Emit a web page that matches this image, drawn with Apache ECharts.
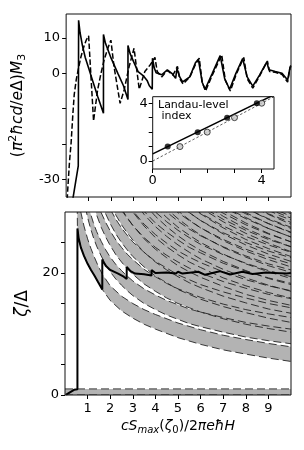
<!DOCTYPE html>
<html>
<head>
<meta charset="utf-8">
<script src="https://cdn.jsdelivr.net/npm/echarts@6/dist/echarts.min.js"></script>
<style>
html,body{margin:0;padding:0;background:#ffffff;}
#chart{width:304px;height:450px;}
</style>
</head>
<body>
<div id="chart"></div>
<script>
// ---------------- top panel : (pi^2 hbar c d / e Delta) M3 versus x ----------------
const magnetSolid = [
  [0.30,-35.5],[0.54,-26.2],[0.555,15.0],[0.62,11.5],[0.72,8.0],[0.85,4.5],[1.0,1.5],[1.15,-1.5],[1.4,-6.5],[1.66,-11.3],
  [1.66,11.0],[1.75,8.5],[2.0,4.3],[2.3,0.0],[2.55,-3.5],[2.75,-7.4],
  [2.75,7.9],[2.85,5.5],[3.0,3.3],[3.2,0.5],[3.45,-0.8],[3.6,-2.0],[3.7,-3.5],[3.83,-4.5],
  [3.84,4.3],[3.92,1.5],[4.0,0.2],[4.25,-0.4],[4.5,1.0],[4.7,0.0],[4.87,-1.4],[4.93,1.4],[5.05,-1.0],[5.18,-2.4],
  [5.5,-1.0],[5.75,3.0],[5.88,4.0],[6.05,-2.5],[6.18,-4.5],[6.5,0.0],[6.85,5.0],[7.05,-1.5],[7.27,-4.5],[7.55,0.0],
  [7.85,4.2],[8.05,-1.0],[8.3,-3.6],[8.6,-0.5],[8.92,3.2],[9.02,1.0],[9.3,0.5],[9.6,0.0],[9.85,-1.9],[9.95,1.5],[10.0,2.0]
];
const magnetDashed = [
  [0.03,-38],[0.07,-33],[0.15,-25],[0.22,-19.8],[0.3,-11.5],[0.36,-6],[0.45,-1.8],[0.55,1.5],[0.66,4.7],[0.8,7.8],[0.9,9.5],[1.0,10.6],
  [1.22,-13.5],[1.3,-9.5],[1.4,-4.7],[1.55,0.0],[1.69,3.8],[1.85,7.0],[1.99,9.4],
  [2.13,1.9],[2.4,-8.5],[2.58,-4.7],[2.8,1.9],[3.02,7.1],
  [3.25,-4.5],[3.5,0.5],[3.75,2.5],[3.95,4.5],[4.05,0.5],[4.25,-1.0],[4.5,0.8],[4.75,-0.5],[4.95,2.0],[5.05,-1.5],[5.2,-3.0],
  [5.5,-1.0],[5.75,2.5],[5.92,4.3],[6.05,-2.5],[6.2,-5.0],[6.5,-0.5],[6.92,5.2],[7.08,-2.0],[7.3,-5.0],[7.55,-0.5],[7.9,4.5],
  [8.05,-1.5],[8.3,-4.2],[8.6,-0.8],[8.95,3.5],[9.05,0.5],[9.3,0.3],[9.6,-0.3],[9.85,-2.5],[9.97,2.0],[10,2.2]
];

// ---------------- inset : Landau-level index ----------------
const insetFilledX = [0.55, 1.65, 2.73, 3.82];
const insetOpenX = [1, 2, 3, 4];
const insetLevelIndex = [1, 2, 3, 4];
const insetFitSolid = [[0, 0.5], [4.45, 4.58]];
const insetFitDotted = [[0, 0], [4.45, 4.45]];

// ---------------- bottom panel : zeta / Delta versus x ----------------
const chemPotential = [
  [0.05,0.05],[0.2,0.4],[0.4,0.85],[0.55,0.95],
  [0.55,27.3],[0.6,25.8],[0.7,24.2],[0.84,22.8],[1.0,21.5],[1.15,20.5],[1.3,19.6],[1.45,18.6],[1.65,17.3],
  [1.65,22.2],[1.8,21.2],[2.0,20.5],[2.35,19.9],[2.6,19.4],[2.73,19.0],
  [2.73,21.0],[2.9,20.3],[3.1,19.9],[3.5,19.8],[3.83,19.6],
  [3.83,20.5],[4.0,20.0],[4.5,20.1],[4.9,19.9],[5.0,20.2],[5.2,19.9],[5.9,20.2],[6.2,19.7],[6.85,20.3],
  [7.3,19.75],[7.85,20.2],[8.3,19.85],[8.9,20.1],[9.3,20.0],[9.8,19.9],[10,20.0]
];
const zeroBandLower = [[0,0],[10,0]];
const zeroBandUpper = [[0,1],[10,1]];
const band01Lower = [[0.54,31.0],[0.55,27.3],[0.6,25.8],[0.7,24.2],[0.84,22.8],[1.0,21.5],[1.15,20.5],[1.3,19.6],[1.45,18.6],[1.65,17.3],[2.0,15.5],[2.5,13.8],[3.0,12.6],[3.5,11.6],[4.0,10.8],[5.0,9.4],[6.0,8.3],[7.0,7.4],[8.0,6.7],[9.0,6.05],[10,5.5]];
const band01Upper = [[0.54,34.0],[0.55,33.5],[0.6,32.0],[0.7,30.0],[0.84,27.7],[1.0,25.6],[1.15,24.0],[1.3,22.6],[1.45,21.3],[1.65,19.8],[2.0,17.9],[2.5,16.2],[3.0,15.0],[3.5,14.0],[4.0,13.2],[5.0,11.8],[6.0,10.7],[7.0,9.8],[8.0,9.1],[9.0,8.45],[10,7.9]];
const bandWidth = 2.4;
const band02Lower = [[0.9,30.8],[1,29.1],[1.1,27.7],[1.25,25.9],[1.4,24.4],[1.6,22.8],[1.8,21.4],[2,20.2],[2.25,19.0],[2.5,18.0],[2.75,17.1],[3,16.3],[3.5,15.0],[4,14.0],[4.5,13.1],[5,12.4],[5.5,11.7],[6,11.2],[7,10.3],[8,9.5],[9,8.9],[10,8.4]];
const band03Lower = [[1.25,31.3],[1.4,29.5],[1.6,27.5],[1.8,25.9],[2,24.5],[2.25,23.0],[2.5,21.8],[2.75,20.7],[3,19.8],[3.5,18.2],[4,17.0],[4.5,15.9],[5,15.0],[5.5,14.3],[6,13.6],[7,12.5],[8,11.6],[9,10.9],[10,10.3]];
const band04Lower = [[1.6,31.6],[1.8,29.7],[2,28.1],[2.25,26.4],[2.5,25.0],[2.75,23.8],[3,22.7],[3.5,21.0],[4,19.5],[4.5,18.4],[5,17.3],[5.5,16.5],[6,15.7],[7,14.5],[8,13.5],[9,12.6],[10,11.9]];
const band05Lower = [[2,31.4],[2.25,29.5],[2.5,27.9],[2.75,26.6],[3,25.4],[3.5,23.4],[4,21.8],[4.5,20.5],[5,19.4],[5.5,18.4],[6,17.6],[7,16.2],[8,15.1],[9,14.1],[10,13.4]];
const band06Lower = [[2.25,32.3],[2.5,30.5],[2.75,29.1],[3,27.8],[3.5,25.6],[4,23.9],[4.5,22.5],[5,21.2],[5.5,20.2],[6,19.3],[7,17.8],[8,16.5],[9,15.5],[10,14.7]];
const band07Lower = [[2.75,31.4],[3,30.0],[3.5,27.7],[4,25.8],[4.5,24.3],[5,23.0],[5.5,21.8],[6,20.9],[7,19.2],[8,17.9],[9,16.8],[10,15.9]];
const band08Lower = [[3,32.1],[3.5,29.6],[4,27.6],[4.5,26.0],[5,24.6],[5.5,23.4],[6,22.3],[7,20.6],[8,19.2],[9,18.0],[10,17.0]];
const band09Lower = [[3.5,31.4],[4,29.3],[4.5,27.6],[5,26.1],[5.5,24.8],[6,23.7],[7,21.9],[8,20.4],[9,19.1],[10,18.1]];
const band10Lower = [[4,30.9],[4.5,29.1],[5,27.5],[5.5,26.2],[6,25.0],[7,23.1],[8,21.5],[9,20.2],[10,19.1]];
const band11Lower = [[4,32.4],[4.5,30.5],[5,28.9],[5.5,27.5],[6,26.2],[7,24.2],[8,22.6],[9,21.2],[10,20.1]];
const band12Lower = [[4.5,31.9],[5,30.2],[5.5,28.7],[6,27.4],[7,25.3],[8,23.6],[9,22.2],[10,21.0]];
const band13Lower = [[5,31.4],[5.5,29.9],[6,28.6],[7,26.4],[8,24.6],[9,23.1],[10,21.9]];
const band14Lower = [[5.5,31.0],[6,29.7],[7,27.4],[8,25.5],[9,24.0],[10,22.7]];
const band15Lower = [[5.5,32.2],[6,30.7],[7,28.4],[8,26.5],[9,24.9],[10,23.5]];
const band16Lower = [[6,31.8],[6.5,30.5],[7,29.3],[8,27.3],[9,25.7],[10,24.3]];
const band17Lower = [[6,32.8],[6.5,31.4],[7,30.2],[8,28.2],[9,26.5],[10,25.1]];
const band18Lower = [[7,31.1],[7.5,30.0],[8,29.1],[9,27.3],[10,25.9]];
const band19Lower = [[7,32.0],[7.5,30.9],[8,29.9],[9,28.1],[10,26.6]];
const band20Lower = [[7.5,31.7],[8,30.7],[8.5,29.7],[9,28.8],[10,27.3]];
const band21Lower = [[8,31.4],[8.5,30.5],[9,29.6],[10,28.0]];
const band22Lower = [[8.5,31.2],[9,30.3],[9.5,29.4],[10,28.7]];
const band23Lower = [[9,31.0],[9.5,30.1],[10,29.3]];

// ---------------- ticks and labels ----------------
const xTickValues = [1,2,3,4,5,6,7,8,9];
const xLabelValues = [1,2,3,4,5,6,7,8,9];
const topYTickValues = [-30,-20,-10,0,10];
const topYLabelValues = [-30,0,10];
const bottomYTickValues = [0,5,10,15,20,25];
const bottomYLabelValues = [0,20];
const insetTickValues = [0,1,2,3,4];
const insetLabelValues = [0,4];

// ---------------- rendering ----------------
const FONT = 'DejaVu Sans';
const INK = '#000000';
const GRAY = '#b3b3b3';

const bandDefs = [
  {lower: zeroBandLower, upper: zeroBandUpper},
  {lower: band01Lower, upper: band01Upper}
].concat([band02Lower,band03Lower,band04Lower,band05Lower,band06Lower,band07Lower,band08Lower,
  band09Lower,band10Lower,band11Lower,band12Lower,band13Lower,band14Lower,band15Lower,band16Lower,
  band17Lower,band18Lower,band19Lower,band20Lower,band21Lower,band22Lower,band23Lower]
  .map(l => ({lower: l, width: bandWidth})));

function upperEdge(b) {
  return b.upper ? b.upper : b.lower.map(p => [p[0], p[1] + b.width]);
}
function clipRect(params) {
  const c = params.coordSys;
  return {type: 'rect', shape: {x: c.x, y: c.y, width: c.width, height: c.height}};
}
function renderBandFill(params, api) {
  const b = bandDefs[params.dataIndex];
  const pts = b.lower.map(p => api.coord(p))
    .concat(upperEdge(b).slice().reverse().map(p => api.coord(p)));
  return {type: 'group', clipPath: clipRect(params), children: [
    {type: 'polygon', shape: {points: pts}, style: {fill: GRAY, stroke: 'none'}}
  ]};
}
function renderBandEdges(params, api) {
  const b = bandDefs[params.dataIndex];
  const st = {stroke: '#1a1a1a', lineWidth: 0.85, lineDash: [8, 4], fill: 'none'};
  return {type: 'group', clipPath: clipRect(params), children: [
    {type: 'polyline', shape: {points: b.lower.map(p => api.coord(p))}, style: st},
    {type: 'polyline', shape: {points: upperEdge(b).map(p => api.coord(p))}, style: st}
  ]};
}

function richSet(size) {
  const s = Math.round(size * 0.7);
  const off = Math.round(size * 0.55);
  return {
    n:    {fontFamily: FONT, fontSize: size, color: INK},
    i:    {fontFamily: FONT, fontSize: size, fontStyle: 'italic', color: INK},
    sub:  {fontFamily: FONT, fontSize: s, color: INK, padding: [off, 0, 0, 0]},
    subi: {fontFamily: FONT, fontSize: s, fontStyle: 'italic', color: INK, padding: [off, 0, 0, 0]},
    sup:  {fontFamily: FONT, fontSize: s, color: INK, padding: [0, 0, off, 0]}
  };
}
const tickStyle = {show: true, inside: false, length: 4, lineStyle: {color: INK, width: 1}};
const labelStyle = {fontFamily: FONT, fontSize: 13, color: INK};

const option = {
  animation: false,
  backgroundColor: '#ffffff',
  grid: [
    {left: 65, top: 14, width: 226, height: 183, show: true, borderColor: '#111', borderWidth: 1, backgroundColor: 'transparent', z: 10},
    {left: 65, top: 212, width: 226, height: 183, show: true, borderColor: '#111', borderWidth: 1, backgroundColor: 'transparent', z: 10},
    {left: 152.7, top: 96.7, width: 121.3, height: 72.3, show: true, borderColor: '#111', borderWidth: 1, backgroundColor: 'transparent', z: 10}
  ],
  xAxis: [
    {type: 'value', gridIndex: 0, min: 0, max: 10,
     axisLine: {show: false, onZero: false}, splitLine: {show: false},
     axisTick: Object.assign({customValues: xTickValues}, tickStyle),
     axisLabel: {show: false}},
    {type: 'value', gridIndex: 1, min: 0, max: 10,
     axisLine: {show: false, onZero: false}, splitLine: {show: false},
     axisTick: Object.assign({customValues: xTickValues}, tickStyle),
     axisLabel: Object.assign({show: true, customValues: xLabelValues, margin: 7}, labelStyle),
     name: '{i|cS}{subi|max}{n|(}{i|ζ}{sub|0}{n|)/2}{i|πeħH}',
     nameLocation: 'middle', nameGap: 22, nameTextStyle: {rich: richSet(14)}},
    {type: 'value', gridIndex: 2, min: 0, max: 4.45,
     axisLine: {show: false, onZero: false}, splitLine: {show: false},
     axisTick: Object.assign({customValues: insetTickValues}, tickStyle),
     axisLabel: Object.assign({show: true, customValues: insetLabelValues, margin: 5}, labelStyle)}
  ],
  yAxis: [
    {type: 'value', gridIndex: 0, min: -35, max: 16.8,
     axisLine: {show: false, onZero: false}, splitLine: {show: false},
     axisTick: Object.assign({customValues: topYTickValues}, tickStyle),
     axisLabel: Object.assign({show: true, customValues: topYLabelValues, margin: 6}, labelStyle),
     name: '{n|(}{i|π}{sup|2}{i|ħcd}{n|/}{i|e}{n|Δ)}{i|M}{sub|3}',
     nameLocation: 'middle', nameRotate: 90, nameGap: 34, nameTextStyle: {rich: richSet(15.5)}},
    {type: 'value', gridIndex: 1, min: 0, max: 30,
     axisLine: {show: false, onZero: false}, splitLine: {show: false},
     axisTick: Object.assign({customValues: bottomYTickValues}, tickStyle),
     axisLabel: Object.assign({show: true, customValues: bottomYLabelValues, margin: 6}, labelStyle),
     name: '{i|ζ}{n|/Δ}',
     nameLocation: 'middle', nameRotate: 90, nameGap: 30, nameTextStyle: {rich: richSet(17)}},
    {type: 'value', gridIndex: 2, min: -0.55, max: 4.45,
     axisLine: {show: false, onZero: false}, splitLine: {show: false},
     axisTick: Object.assign({customValues: insetTickValues}, tickStyle),
     axisLabel: Object.assign({show: true, customValues: insetLabelValues, margin: 5}, labelStyle)}
  ],
  series: [
    {type: 'line', xAxisIndex: 0, yAxisIndex: 0, data: magnetDashed, symbol: 'none', silent: true,
     lineStyle: {color: INK, width: 1.5, type: [5.5, 2.4]}, z: 3},
    {type: 'line', xAxisIndex: 0, yAxisIndex: 0, data: magnetSolid, symbol: 'none', silent: true,
     lineStyle: {color: INK, width: 1.6}, z: 4},

    {type: 'line', xAxisIndex: 2, yAxisIndex: 2, data: insetFitDotted, symbol: 'none', silent: true,
     lineStyle: {color: '#333', width: 0.8, type: [2.5, 2]}, z: 3},
    {type: 'line', xAxisIndex: 2, yAxisIndex: 2, data: insetFitSolid, symbol: 'none', silent: true,
     lineStyle: {color: INK, width: 1.5}, z: 3},
    {type: 'scatter', xAxisIndex: 2, yAxisIndex: 2, silent: true, z: 4,
     data: insetOpenX.map((x, k) => [x, insetLevelIndex[k]]), symbol: 'circle', symbolSize: 6,
     itemStyle: {color: '#c8c8c8', borderColor: '#222', borderWidth: 1}},
    {type: 'scatter', xAxisIndex: 2, yAxisIndex: 2, silent: true, z: 4,
     data: insetFilledX.map((x, k) => [x, insetLevelIndex[k]]), symbol: 'circle', symbolSize: 6,
     itemStyle: {color: INK}},

    {type: 'custom', xAxisIndex: 1, yAxisIndex: 1, silent: true, z: 1,
     data: bandDefs.map(b => b.lower[b.lower.length - 1]), renderItem: renderBandFill},
    {type: 'custom', xAxisIndex: 1, yAxisIndex: 1, silent: true, z: 2,
     data: bandDefs.map(b => b.lower[b.lower.length - 1]), renderItem: renderBandEdges},
    {type: 'line', xAxisIndex: 1, yAxisIndex: 1, data: chemPotential, symbol: 'none', silent: true,
     lineStyle: {color: INK, width: 2}, z: 5}
  ],
  graphic: [
    {type: 'text', left: 158, top: 100, z: 100, silent: true,
     style: {text: 'Landau-level\n index', font: '11px "DejaVu Sans"', fill: INK, lineHeight: 10.5}}
  ]
};

const chart = echarts.init(document.getElementById('chart'), null, {renderer: 'canvas'});
chart.setOption(option);
</script>
</body>
</html>
